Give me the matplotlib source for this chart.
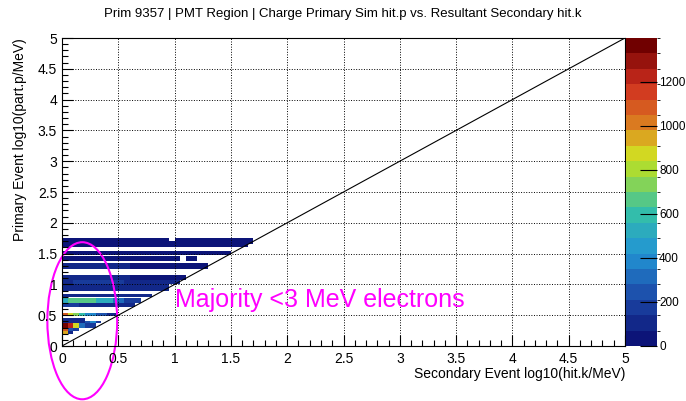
#!/usr/bin/env python

import matplotlib
matplotlib.use('Agg')
import matplotlib.pyplot as plt
import numpy as np
from matplotlib.colors import LinearSegmentedColormap, BoundaryNorm
from matplotlib.patches import Ellipse
from matplotlib.ticker import MultipleLocator, FuncFormatter

matplotlib.rc('font', size=10, family=['Liberation Sans', 'DejaVu Sans'])

# Histogram rows: y range of each row and (x_end, counts) segments, x bin width 0.05
ROW_Y0 = [0.19, 0.24, 0.30, 0.38, 0.41, 0.49, 0.63, 0.70, 0.80, 0.90,
          1.00, 1.07, 1.25, 1.38, 1.48, 1.60, 1.65, 1.70]
ROW_Y1 = [0.24, 0.29, 0.38, 0.41, 0.46, 0.54, 0.70, 0.78, 0.85, 1.00,
          1.07, 1.15, 1.35, 1.46, 1.54, 1.65, 1.70, 1.75]
ROW_SEGMENTS = [
    [(0.05, 950), (0.10, 120)],
    [(0.05, 1050), (0.10, 250), (0.15, 150)],
    [(0.05, 1380), (0.10, 1220), (0.15, 850), (0.20, 300), (0.30, 150)],
    [(0.20, 120), (0.25, 250), (0.30, 380), (0.35, 150)],
    [(0.20, 100)],
    [(0.05, 1050), (0.10, 900), (0.15, 750), (0.20, 600), (0.30, 400), (0.40, 250), (0.50, 120)],
    [(0.15, 200), (0.65, 90)],
    [(0.05, 500), (0.30, 650), (0.45, 550), (0.55, 300), (0.70, 150)],
    [(0.80, 70)],
    [(0.95, 80)],
    [(0.10, 100), (0.55, 180), (1.05, 80)],
    [(0.60, 130), (1.10, 60)],
    [(0.40, 70), (0.60, 110), (1.30, 50)],
    [(1.05, 50), (1.10, 0), (1.20, 40)],
    [(1.50, 40)],
    [(1.65, 45)],
    [(1.70, 45)],
    [(0.95, 45), (1.00, 0), (1.70, 45)],
]
BIN = 0.05

# palette close to the ROOT rainbow used in the plot
stops = [0.0, 0.14, 0.29, 0.43, 0.57, 0.64, 0.71, 0.86, 1.0]
colors = ['#0c1478', '#1c4aa8', '#2294d4', '#34c0a8', '#a8dc34',
          '#d8d820', '#dc8820', '#d03020', '#700000']
cmap = LinearSegmentedColormap.from_list('rootrainbow', list(zip(stops, colors)))
levels = np.arange(0, 1401, 70)
norm = BoundaryNorm(levels, cmap.N)

fig = plt.figure(figsize=(6.86, 4.01), dpi=100)
ax = fig.add_axes([62 / 686, 55 / 401, 563 / 686, 308 / 401])
cax = fig.add_axes([626 / 686, 55 / 401, 31 / 686, 308 / 401])

mesh = None
for y0, y1, segs in zip(ROW_Y0, ROW_Y1, ROW_SEGMENTS):
    vals = []
    start = 0.0
    for x_end, count in segs:
        n = int(round((x_end - start) / BIN))
        vals += [count] * n
        start = x_end
    xs = np.arange(len(vals) + 1) * BIN
    c = np.ma.masked_equal(np.array(vals, dtype=float)[None, :], 0)
    mesh = ax.pcolormesh(xs, [y0, y1], c, cmap=cmap, norm=norm)

ax.plot([0, 5], [0, 5], color='black', linewidth=0.8)

ax.set_xlim(0, 5)
ax.set_ylim(0, 5)
for axis in (ax.xaxis, ax.yaxis):
    axis.set_major_locator(MultipleLocator(0.5))
    axis.set_minor_locator(MultipleLocator(0.1))
    axis.set_major_formatter(FuncFormatter(lambda v, p: '%g' % v))
ax.tick_params(which='major', direction='in', length=8, width=0.8, labelsize=10)
ax.tick_params(which='minor', direction='in', length=4, width=0.8)
ax.tick_params(axis='x', pad=4)
ax.grid(which='major', linestyle=':', color='black', linewidth=0.7)
for s in ax.spines.values():
    s.set_linewidth(0.8)

ax.set_xlabel('Secondary Event log10(hit.k/MeV)', loc='right', fontsize=10, labelpad=1)
ax.set_ylabel('Primary Event log10(part.p/MeV)', loc='top', fontsize=10, labelpad=8)
fig.text(0.5, 1 - 14 / 401, 'Prim 9357 | PMT Region | Charge Primary Sim hit.p vs. Resultant Secondary hit.k',
         ha='center', va='center', fontsize=9.5)

ax.text(1.0, 0.75, 'Majority <3 MeV electrons', color='#ff00ff', fontsize=18,
        ha='left', va='center')
ax.add_patch(Ellipse((0.18, 0.41), 0.62, 2.55, fill=False, edgecolor='#ff00ff',
                     linewidth=1.5, clip_on=False))

cb = fig.colorbar(mesh, cax=cax, ticks=np.arange(0, 1201, 200))
cb.outline.set_visible(False)
cax.tick_params(direction='in', length=12, width=0.8, labelsize=8.5, pad=1.5)

fig.savefig('out.png', dpi=100)
